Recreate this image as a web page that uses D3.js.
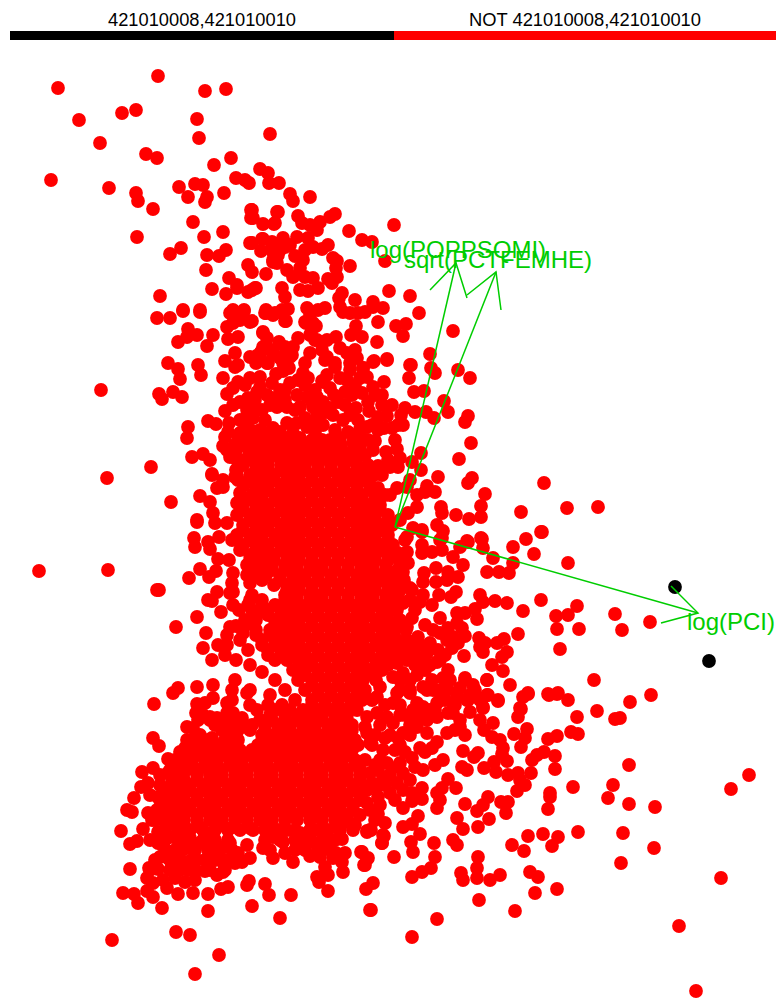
<!DOCTYPE html>
<html><head><meta charset="utf-8">
<style>html,body{margin:0;padding:0;background:#fff}svg{display:block}</style>
<script src="https://cdn.jsdelivr.net/npm/d3@7/dist/d3.min.js"></script>
</head><body><div id="chart"></div>
<script>
const legendLabels=["421010008,421010010","NOT 421010008,421010010"];
const legendColors=["#000000","#ff0000"];
const blackScores=[[675,587],[709,661]];
const outlierScores=[[58,88],[158,76],[205,91],[226,89],[79,120],[122,113],[136,110],[197,119],[51,180],[39,571],[108,570],[157,590],[159,590],[101,390],[107,478],[151,467],[171,502],[394,225],[598,507],[567,508],[544,483],[521,512],[541,532],[615,614],[622,630],[650,622],[568,615],[577,606],[579,629],[594,680],[630,702],[651,695],[597,711],[615,719],[620,718],[577,717],[578,734],[571,732],[629,765],[613,785],[608,798],[629,804],[655,807],[578,832],[623,833],[654,848],[621,863],[721,878],[679,926],[696,991],[731,789],[749,775],[573,787],[557,889],[535,893],[515,911],[479,900],[437,919],[412,937],[370,910],[453,331]];
const upperScores=[[100,143],[199,138],[270,134],[146,154],[157,158],[231,158],[214,165],[236,178],[245,180],[249,183],[260,169],[268,173],[269,183],[279,183],[109,188],[136,193],[138,201],[153,209],[179,187],[195,184],[203,185],[188,197],[207,197],[205,202],[224,193],[251,210],[251,218],[277,212],[263,224],[274,224],[193,222],[137,237],[204,237],[223,232],[250,243],[262,239],[261,251],[272,242],[277,247],[278,255],[273,262],[181,248],[170,254],[207,255],[219,256],[226,250],[206,270],[248,265],[252,272],[266,274],[229,278],[237,285],[237,288],[212,289],[226,294],[248,292],[255,288],[160,296],[183,310],[200,310],[233,310],[244,310],[266,310],
[290,194],[293,201],[310,197],[252,210],[253,218],[278,212],[275,223],[298,216],[302,223],[310,225],[320,222],[317,230],[330,217],[335,214],[349,231],[362,240],[372,242],[385,261],[350,266],[333,258],[337,261],[336,268],[337,277],[328,279],[332,283],[252,243],[263,239],[272,245],[273,252],[283,238],[290,245],[297,237],[308,238],[285,247],[280,250],[273,260],[277,263],[295,256],[303,260],[305,250],[313,247],[322,249],[328,245],[287,270],[293,277],[300,268],[305,277],[313,278],[252,290],[256,288],[282,288],[285,297],[300,290],[308,291],[318,288],[342,293],[339,298],[355,300],[389,291],[410,296],[419,313],[373,302],[383,308],[373,307],[365,312],[358,313],[350,313],[343,312],[340,307],[378,322],[396,326],[406,324],[403,336],[377,342],[356,326],[351,335],[362,337],[266,313],[275,313],[282,310],[288,309],[285,321],[252,321],[307,308],[310,315],[318,310],[325,308],[306,323],[316,326],[311,333],[315,340],[327,340],[336,337],[298,338],[263,333],[267,338],[279,342],[285,347],[293,347],[263,347],[273,353],[258,355],[268,363],[292,355],[310,353],[305,363],[322,350],[327,357],[340,348],[347,353],[355,350],[357,358],[335,363],[350,363],[363,368],[374,361],[387,359],[411,365],[430,354],[283,363],[257,360],
[157,318],[170,318],[183,311],[200,312],[188,329],[197,335],[187,337],[178,342],[213,335],[207,346],[230,313],[235,313],[244,311],[240,320],[250,322],[227,327],[233,323],[228,339],[238,337],[235,353],[265,313],[273,315],[286,321],[263,332],[267,347],[261,352],[250,357],[256,363],[267,363],[273,352],[280,358],[290,357],[289,368],[276,374],[283,371],[303,373],[308,378],[322,381],[305,322],[313,323],[310,335],[317,340],[168,363],[178,369],[180,379],[198,365],[201,375],[225,361],[235,367],[238,365],[223,378],[238,382],[233,388],[227,394],[260,377],[260,387],[257,392],[267,395],[275,398],[290,383],[285,390],[297,395],[159,394],[162,399],[173,392],[182,397],[248,398],[255,400],[240,402],[233,405],[252,407],[247,410],[225,411],[277,407],[307,397],[287,407],[300,407],[313,407],[208,421],[216,424],[188,427],[187,438],[229,423],[247,417],[253,418],[240,420],[228,432],[225,437],[223,446],[240,433],[250,430],[260,430],[273,428],[287,423],[297,423],[267,433],[280,432],[293,433],[307,427],[317,423],[192,457],[203,454],[210,460],[212,474],[227,450],[230,457],[237,460],[237,470],[237,477],[223,480],
[410,365],[409,378],[431,368],[435,373],[458,370],[470,378],[384,382],[373,387],[363,368],[367,377],[360,378],[350,370],[347,380],[327,375],[323,382],[335,367],[325,360],[373,362],[387,360],[414,392],[424,391],[444,401],[448,412],[468,416],[465,422],[471,443],[459,459],[438,477],[472,478],[468,483],[485,494],[481,506],[481,517],[456,515],[469,519],[441,507],[442,513],[437,525],[443,531],[427,486],[435,492],[425,492],[417,495],[417,507],[408,513],[405,408],[401,415],[415,412],[426,412],[434,418],[403,425],[392,428],[398,425],[387,416],[378,417],[378,430],[367,427],[360,429],[356,408],[368,402],[369,411],[362,393],[355,385],[345,392],[334,395],[338,402],[317,397],[312,402],[323,402],[327,412],[333,415],[343,420],[348,432],[317,413],[312,422],[323,425],[335,430],[353,442],[375,441],[360,447],[365,455],[373,450],[386,452],[397,449],[421,453],[412,462],[421,470],[400,458],[388,460],[378,466],[390,467],[398,467],[382,475],[410,480],[407,487],[397,488],[390,495],[378,488],[367,478],[357,477],[400,520],[413,528],[422,530],[407,537],[467,541],[481,538],[442,538],
[245,385],[250,378],[272,383],[280,390],[305,385],[315,390],[330,388],[340,378],[298,380],[270,405],[285,400],[295,410],[320,415],[305,418],[330,408],[345,405],[350,415],[358,420],[352,395],[375,395],[382,405],[262,410],[265,420],[245,425],[255,435],[270,440],[285,438],[300,438],[315,432],[330,440],[340,438],[235,445],[360,435],[372,425],[368,440],[384,428],[395,440],[392,405],[382,395]];
const rightScores=[[422,532],[468,542],[482,539],[483,548],[460,547],[440,540],[442,550],[405,540],[407,552],[398,553],[422,545],[422,553],[432,552],[453,557],[463,565],[493,558],[513,547],[526,539],[542,532],[534,554],[568,563],[513,563],[487,572],[499,572],[509,573],[408,563],[400,565],[403,572],[436,568],[424,573],[448,572],[458,577],[447,580],[436,582],[423,582],[410,588],[400,587],[392,573],[439,595],[456,592],[451,597],[480,595],[483,602],[495,601],[507,603],[541,600],[523,611],[556,616],[557,629],[475,609],[465,613],[457,613],[477,619],[440,618],[432,605],[420,602],[423,595],[403,603],[397,610],[412,618],[407,627],[397,623],[457,623],[462,628],[465,636],[448,628],[440,633],[433,630],[453,637],[447,640],[430,643],[418,637],[407,640],[397,640],[410,647],[458,643],[452,648],[438,650],[427,653],[464,656],[479,638],[485,643],[480,647],[483,652],[497,643],[504,639],[518,634],[560,649],[507,652],[502,657],[492,665],[503,671],[510,685],[487,680],[465,678],[473,685],[475,690],[448,670],[443,678],[432,680],[437,662],[423,660],[407,660],[397,663],[403,673],[417,675],[393,677],[423,687],[410,690],[397,693],[433,690],[447,690],[457,693],[468,700],[488,695],[498,700],[480,700],[483,707],[523,697],[528,693],[549,695],[558,693],[568,700],[520,708],[417,703],[437,703],[453,703],
[528,694],[548,694],[557,694],[498,701],[487,695],[467,700],[465,680],[487,680],[483,708],[480,720],[493,723],[484,730],[521,709],[518,717],[527,729],[514,734],[525,738],[521,747],[548,739],[557,736],[492,737],[500,740],[503,748],[502,754],[507,761],[465,735],[455,730],[463,751],[478,753],[474,757],[462,767],[467,770],[484,768],[494,762],[496,772],[508,775],[518,773],[531,773],[525,785],[517,791],[520,780],[532,760],[537,755],[544,752],[555,756],[555,769],[550,793],[550,797],[548,809],[448,779],[456,788],[442,788],[437,793],[440,800],[437,808],[465,804],[488,797],[483,805],[477,811],[501,802],[508,802],[506,813],[489,819],[478,827],[463,829],[457,818],[453,840],[457,845],[434,843],[435,857],[431,868],[422,872],[412,877],[394,857],[413,852],[411,842],[420,834],[418,816],[412,824],[403,827],[403,808],[422,788],[422,799],[412,801],[412,793],[378,814],[370,830],[367,832],[383,835],[382,843],[362,852],[368,858],[365,865],[512,845],[524,851],[528,836],[543,834],[552,846],[558,837],[478,857],[477,868],[477,878],[461,873],[463,880],[500,875],[490,880],[530,872],[538,877],
[427,720],[453,713],[460,727],[447,733],[437,742],[443,760],[435,765],[423,770],[415,767],[425,752],[420,748],[432,748],[400,745],[383,750],[365,760],[370,773],[387,763],[400,763],[403,773],[410,780],[397,783],[383,777],[377,787],[390,793],[403,790],[367,790],[367,803],[378,797],[370,810],[367,733],[370,743],[403,733],[417,727],[410,735],[393,723],[377,713],[367,717],[362,700],[377,697],[393,703],[410,693],[423,707],[440,700],[437,717],[413,710],[400,690],[380,687],[365,690],[427,690],[447,687],[457,697],[448,713],[427,733],[365,727],[387,717],
[410,600],[415,610],[425,625],[400,650],[405,655],[415,665],[425,670],[400,680],[410,680],[430,665],[440,660],[445,655],[420,645],[415,655],[450,680],[460,688],[440,690],[470,695],[445,700],[435,710],[455,705],[470,712],[460,720],[420,715],[405,715],[400,705],[410,725],[390,735],[380,725],[375,735],[395,750],[380,760],[375,765],[390,775],[385,785],[395,800],[380,805],[375,820],[385,823],[360,815],[355,825],
[372,700],[385,705],[400,715],[415,720],[430,710],[372,745],[385,738],[398,738],[378,770],[392,768],[372,783],[405,752],[412,758]];
const leftScores=[[212,475],[235,477],[223,487],[217,488],[200,496],[210,502],[240,493],[252,495],[237,503],[213,513],[197,520],[197,522],[215,523],[227,523],[194,538],[195,547],[219,537],[208,542],[210,549],[232,540],[240,550],[218,559],[229,560],[200,569],[216,571],[209,577],[189,578],[233,573],[232,583],[247,575],[250,583],[217,592],[208,600],[212,601],[233,592],[230,593],[233,605],[239,610],[221,612],[197,617],[176,627],[206,633],[230,627],[236,626],[227,635],[203,648],[218,645],[227,645],[243,633],[250,600],[257,570],[248,650],[240,640],[236,660],[225,655],[250,665],[262,672],[275,680],[285,690],[295,700],[270,695],[250,690],[235,680],[212,660],
[178,688],[173,693],[197,687],[213,685],[154,704],[213,698],[197,704],[205,703],[196,713],[203,715],[210,717],[217,718],[227,703],[232,690],[232,700],[247,693],[250,705],[257,710],[233,713],[242,718],[235,723],[227,713],[187,727],[193,728],[198,720],[153,738],[159,746],[187,740],[196,737],[193,748],[212,738],[185,748],[180,752],[168,759],[175,760],[142,772],[153,768],[160,775],[168,773],[177,777],[141,787],[148,783],[160,785],[168,788],[134,798],[150,795],[158,797],[170,793],[127,810],[132,812],[148,813],[157,810],[167,805],[121,831],[143,829],[137,841],[130,844],[158,832],[158,843],[160,857],[168,855],[152,820],[163,820],
[130,869],[149,868],[147,878],[158,869],[168,858],[123,893],[134,894],[138,903],[147,891],[153,897],[162,908],[153,883],[167,888],[178,894],[193,893],[208,894],[208,911],[195,880],[185,882],[175,878],[163,880],[221,889],[228,887],[205,871],[217,875],[223,872],[223,862],[197,860],[187,862],[177,863],[180,870],[188,870],[235,863],[242,862],[250,858],[273,858],[285,853],[293,862],[300,844],[310,856],[320,857],[325,867],[328,875],[317,877],[319,882],[328,891],[343,872],[336,853],[345,853],[333,858],[342,862],[342,839],[361,852],[367,859],[364,865],[353,830],[367,831],[371,830],[384,836],[382,843],[373,883],[366,889],[371,910],[249,881],[247,885],[265,884],[269,895],[291,895],[252,906],[280,918],[176,932],[190,935],[112,940],[219,955],[195,974],
[230,843],[247,845],[238,853],[263,848],[283,842],[287,830],[273,837],[310,840],[327,842],[317,845],[300,833],[310,830],[323,830],[337,827],[350,823],[170,837],[160,843],[175,850],[188,848],[200,843],[213,842],[223,847],[210,853],[167,825],[183,825],[200,827],[217,827],[233,827],[250,828],[267,828],[180,835],[190,838],[205,835]];
const denseUpperRows=[[440,[238,250,262,274,287,299,312,322]],[445,[243,255,268,280,292,304,316,329,341]],[450,[236,249,256,268,281,293,305,318,329,341,353]],[455,[249,262,275,286,298,310,322,335,348,358]],[460,[240,252,268,281,293,305,316,329,342,352]],[465,[243,256,268,281,293,305,318,331,344,357,368]],[470,[236,256,268,281,293,305,318,331,344,357]],[475,[250,262,274,287,299,312,325,338,350,363,374]],[480,[238,250,262,274,287,299,312,325,338,350,363]],[485,[244,256,268,281,293,305,318,331,344,357,370]],[490,[256,268,281,293,305,318,331,344,357,370]],[495,[262,275,287,299,312,325,338,351,362,375,385]],[500,[246,262,275,287,299,312,325,338,351,362,375]],[505,[243,256,268,281,293,305,318,331,344,357,368,380]],[510,[243,256,268,281,293,305,318,331,344,357,368,380]],[515,[237,250,262,274,287,299,312,325,338,351,363,375,388]],[520,[250,262,274,287,299,312,325,338,351,363,375,388]],[525,[243,256,268,281,293,305,318,331,344,357,369,381,392]],[530,[243,256,268,281,293,305,318,331,344,357,369,381]],[535,[237,250,262,275,287,299,312,325,338,351,363,375,388]],[540,[250,262,275,287,299,312,325,338,351,363,375,388]],[545,[243,256,268,281,293,305,318,331,344,357,369,381,393]],[550,[256,268,281,293,305,318,331,344,357,369,381,393]],[555,[250,262,274,287,299,312,325,338,351,363,375,388]]];
const denseMiddleRows=[[560,[250,262,274,287,299,312,325,338,351,363,375,388,400]],[565,[247,260,272,285,297,310,322,335,348,361,373,386]],[570,[262,272,285,297,310,322,335,348,361,373,386,398]],[575,[253,266,280,293,305,318,331,344,357,369,381,392]],[580,[262,280,293,305,318,331,344,357,369,381,392,404]],[585,[274,287,299,312,325,338,351,363,375,388]],[590,[287,299,312,325,338,351,363,375,388,400,412]],[595,[252,285,297,310,322,335,348,361,373,386,398]],[600,[262,285,297,310,322,335,348,361,373,386,398,410]],[605,[248,262,275,287,299,312,325,338,351,363,376,388]],[610,[252,268,281,293,305,318,331,344,357,369,382,394]],[615,[256,268,281,293,305,318,331,344,357,369,382]],[620,[245,256,275,287,299,312,325,338,351,363,376,388,400]],[625,[245,275,287,299,312,325,338,351,363,376,388]],[630,[256,270,281,293,305,318,331,344,357,369,382,394,406]],[635,[256,270,281,293,305,318,331,344,357,369,382,394]],[640,[262,275,287,299,312,325,338,351,363,376,388]],[645,[262,275,287,299,312,325,338,351,363,376,388]],[650,[268,281,293,305,318,331,344,357,369,382,394]],[655,[268,281,293,305,318,331,344,357,369,382,394]],[660,[275,287,299,312,325,338,351,363,376,388]],[665,[300,312,325,338,351,363,376,388]],[670,[293,305,318,331,344,357,369,382]],[675,[305,318,331,344,357,372]],[680,[298,312,325,338,351,363,376]],[685,[312,325,338,351]],[690,[305,318,331,344,357]],[695,[318,331,344,357]],[700,[312,325,338,351]],[705,[325,338,351,312,268,282]],[710,[275,290,303,318,331,344,357]],[715,[270,285,298,310,322,335,347]]];
const denseLowerRows=[[720,[210,222,236,260,272,285,297,310,322,335,347]],[725,[215,228,240,252,265,278,290,303,315,328,340,352]],[730,[222,238,250,265,278,290,303,315,328,340,352]],[735,[200,232,262,275,287,300,312,325,338,350]],[740,[205,225,238,268,280,293,305,318,330,343,355]],[745,[195,207,220,232,258,270,283,295,308,320,333,345,358]],[750,[190,202,214,226,240,252,265,277,290,302,315,327,340,352]],[755,[185,197,210,222,235,247,260,273,285,298,310,322,335,348]],[760,[180,192,205,217,230,242,255,267,280,292,305,317,330,342,355]],[765,[180,192,205,217,230,242,255,267,280,292,305,317,330,342,355]],[770,[170,186,198,210,222,235,247,260,272,285,297,310,322,335,347,360]],[775,[183,197,210,222,235,247,260,272,285,297,310,322,335,347,360]],[780,[172,184,197,210,222,235,247,260,272,285,297,310,322,335,347,360]],[785,[178,190,203,215,228,240,253,265,278,290,303,315,328,340,353]],[790,[165,178,190,203,215,228,240,253,265,278,290,303,315,328,340,353,365]],[795,[184,197,210,222,235,247,260,272,285,297,310,322,335,347,360]],[800,[160,172,184,197,210,222,235,247,260,272,285,297,310,322,335,347,360]],[805,[178,190,203,215,228,240,253,265,278,290,303,315,328,340,353]],[810,[165,178,190,203,215,228,240,253,265,278,290,303,315,328,340,353]],[815,[172,184,197,210,222,235,247,260,272,285,297,310,322,335,347]],[820,[155,172,184,197,210,222,235,247,260,272,285,297,310,322,335,347]],[830,[165,178,190,203,215,228,240,253,265,278,295,315,328,340]],[840,[150,165,178,190,203,215,228,265,280,295,310,322,335]],[850,[165,182,195,208,220,232,270,295,305,318,330]],[860,[155,170,180,192,205,215,228]],[870,[150,170,195,210,225]]];
const arrowOrigin=[395,527];
const arrowTips=[[456,263],[496,272],[698,613]];
const arrowBarbsA=[[430,290],[467,295],[671,586]];
const arrowBarbsB=[[467,298],[501,310],[661,623]];
const arrowLabels=["log(POPPSQMI)","sqrt(PCTFEMHE)","log(PCI)"];
const labelAnchors=[[370,258],[404,268],[687,630]];

const width=776,height=998;
const x=d3.scaleLinear().domain([0,776]).range([0,width]);
const y=d3.scaleLinear().domain([0,998]).range([0,height]);
const svg=d3.select("#chart").append("svg").attr("width",width).attr("height",height);
const keyEdges=[10,394,776];
svg.selectAll("rect.key").data(legendLabels).join("rect").attr("class","key")
 .attr("x",(d,i)=>keyEdges[i]).attr("y",31).attr("width",(d,i)=>keyEdges[i+1]-keyEdges[i]).attr("height",9)
 .attr("fill",(d,i)=>legendColors[i]);
svg.selectAll("text.key").data(legendLabels).join("text").attr("class","key")
 .attr("x",(d,i)=>(keyEdges[i]+keyEdges[i+1])/2).attr("y",26).attr("text-anchor","middle")
 .attr("font-family","Liberation Sans").attr("font-size",18).attr("textLength",(d,i)=>i?232:188)
 .attr("lengthAdjust","spacingAndGlyphs").text(d=>d);
const expand=rows=>rows.flatMap(([v,xs])=>xs.map(u=>[u,v]));
const redScores=[...outlierScores,...upperScores,...rightScores,...leftScores,...expand(denseUpperRows),...expand(denseMiddleRows),...expand(denseLowerRows)];
svg.append("g").selectAll("circle").data(redScores).join("circle")
 .attr("cx",d=>x(d[0])).attr("cy",d=>y(d[1])).attr("r",6.9).attr("fill","#ff0000");
svg.append("g").selectAll("circle").data(blackScores).join("circle")
 .attr("cx",d=>x(d[0])).attr("cy",d=>y(d[1])).attr("r",6.9).attr("fill","#000000");
const line=d3.line().x(d=>x(d[0])).y(d=>y(d[1]));
const g=svg.append("g").attr("fill","none").attr("stroke","#00cd00").attr("stroke-width",1.5);
arrowTips.forEach((t,i)=>{
  g.append("path").attr("d",line([arrowOrigin,t]));
  g.append("path").attr("d",line([arrowBarbsA[i],t,arrowBarbsB[i]]));
});
svg.selectAll("text.lab").data(arrowLabels).join("text").attr("class","lab")
 .attr("x",(d,i)=>x(labelAnchors[i][0])).attr("y",(d,i)=>y(labelAnchors[i][1]))
 .attr("font-family","Liberation Sans").attr("font-size",24).attr("fill","#00cd00").text(d=>d);
</script></body></html>
